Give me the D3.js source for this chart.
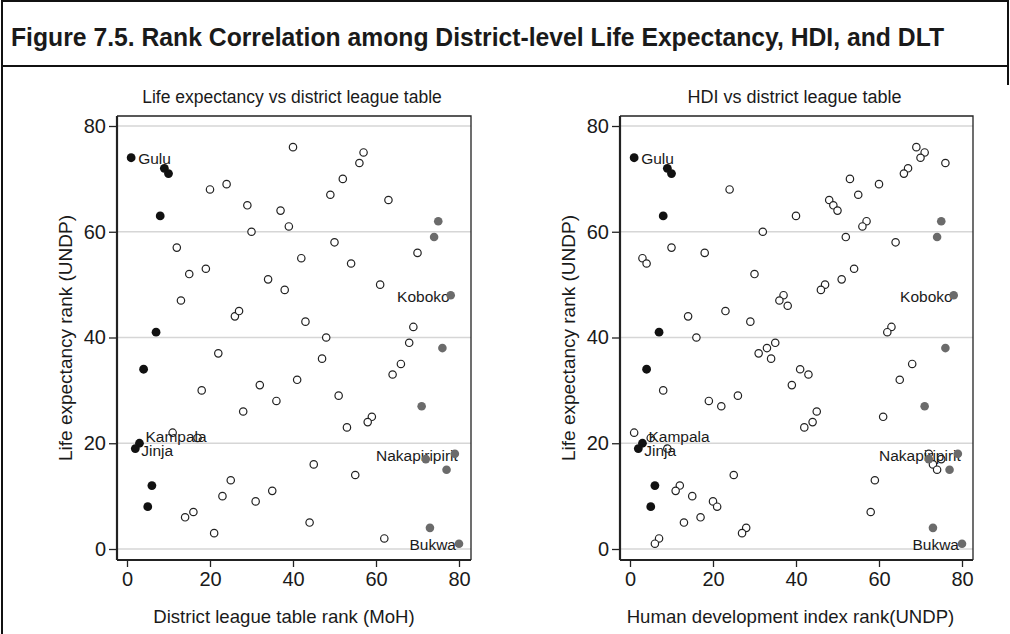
<!DOCTYPE html>
<html><head><meta charset="utf-8">
<script src="https://cdn.jsdelivr.net/npm/d3@7"></script>
<style>
body{margin:0;background:#fff}
svg{display:block}
text{font-family:Arial,"Liberation Sans",Helvetica,sans-serif;fill:#1a1a1a}
</style>
</head><body>
<svg width="1010" height="634"></svg>
<script>
// ---------------- data ----------------
const figureTitle = "Figure 7.5. Rank Correlation among District-level Life Expectancy, HDI, and DLT";
const panelTitles = ["Life expectancy vs district league table", "HDI vs district league table"];
const xTitles = ["District league table rank (MoH)", "Human development index rank(UNDP)"];
const yTitle = "Life expectancy rank (UNDP)";
const xTickValues = [0, 20, 40, 60, 80];
const yTickValues = [0, 20, 40, 60, 80];

// top-ranked districts (black) — same in both panels: [x rank, life expectancy rank]
const topDistricts = [[1,74],[9,72],[10,71],[8,63],[7,41],[4,34],[3,20],[2,19],[6,12],[5,8]];
const topNames = ["Gulu","","","","","","Kampala","Jinja","",""];
// bottom-ranked districts (grey)
const bottomDistricts = [[75,62],[74,59],[78,48],[76,38],[71,27],[79,18],[72,17],[77,15],[73,4],[80,1]];
const bottomNames = ["","","Koboko","","","Nakapiripirit","","","","Bukwa"];

// other districts, panel 1 (DLT rank vs life expectancy rank)
const dltOthers = [[40,76],[20,68],[24,69],[29,65],[37,64],[39,61],[30,60],[52,70],[49,67],[50,58],
  [12,57],[15,52],[19,53],[13,47],[34,51],[38,49],[42,55],[54,54],[26,44],[27,45],[43,43],[48,40],
  [22,37],[47,36],[57,75],[56,73],[63,66],[70,56],[61,50],[69,42],[68,39],[66,35],[18,30],[32,31],
  [36,28],[41,32],[28,26],[51,29],[53,23],[11,22],[17,21],[25,13],[23,10],[35,11],[31,9],[45,16],
  [16,7],[14,6],[21,3],[44,5],[64,33],[59,25],[58,24],[55,14],[62,2]];
// other districts, panel 2 (HDI rank vs life expectancy rank)
const hdiOthers = [[24,68],[40,63],[32,60],[10,57],[18,56],[3,55],[4,54],[30,52],[37,48],[36,47],
  [38,46],[14,44],[23,45],[29,43],[16,40],[31,37],[33,38],[35,39],[34,36],[41,34],[69,76],[71,75],
  [70,74],[76,73],[67,72],[66,71],[53,70],[60,69],[55,67],[48,66],[49,65],[50,64],[57,62],[56,61],
  [52,59],[64,58],[54,53],[51,51],[47,50],[46,49],[63,42],[62,41],[68,35],[8,30],[19,28],[22,27],
  [26,29],[39,31],[1,22],[5,21],[9,19],[25,14],[12,12],[11,11],[15,10],[20,9],[21,8],[17,6],[13,5],
  [28,4],[27,3],[7,2],[6,1],[43,33],[65,32],[61,25],[45,26],[44,24],[42,23],[59,13],[58,7],
  [72,18],[75,17],[73,16],[74,15]];

// ---------------- layout ----------------
const svg = d3.select("svg");
const labelStyle = {
  Gulu:{anchor:"start",dx:7,dy:0.5},
  Kampala:{anchor:"start",dx:6,dy:-7},
  Jinja:{anchor:"start",dx:6,dy:1.5},
  Koboko:{anchor:"end",dx:-1,dy:1},
  Nakapiripirit:{anchor:"end",dx:3,dy:1.5},
  Bukwa:{anchor:"end",dx:-3,dy:1}
};

// frame
svg.append("path").attr("d","M2,634V1H1008V85")
  .attr("fill","none").attr("stroke","#111").attr("stroke-width",2);
svg.append("line").attr("x1",2).attr("x2",1008).attr("y1",66).attr("y2",66)
  .attr("stroke","#111").attr("stroke-width",2);
svg.append("text").attr("x",11).attr("y",46)
  .attr("font-size",25).attr("font-weight","bold")
  .attr("textLength",933).attr("lengthAdjust","spacingAndGlyphs")
  .text(figureTitle);

const panels = [
  {left:117,right:471,x0:127,x80:459,others:dltOthers,title:panelTitles[0],xTitle:xTitles[0],tfs:17.5,xshift:-10},
  {left:620,right:973,x0:630,x80:962,others:hdiOthers,title:panelTitles[1],xTitle:xTitles[1],tfs:18,xshift:-6}
];
const plotTop = 116, plotBottom = 560;

panels.forEach(p => {
  const x = d3.scaleLinear().domain([0,80]).range([p.x0,p.x80]);
  const y = d3.scaleLinear().domain([0,80]).range([549,126]);
  const g = svg.append("g");

  // gridlines
  g.selectAll(".grid").data(yTickValues).enter().append("line")
    .attr("x1",p.left).attr("x2",p.right)
    .attr("y1",d=>y(d)).attr("y2",d=>y(d))
    .attr("stroke","#d6d6d6").attr("stroke-width",1.5);

  // top & right frame
  g.append("path").attr("d",`M${p.left},${plotTop}H${p.right}V${plotBottom}`)
    .attr("fill","none").attr("stroke","#222").attr("stroke-width",1.3);

  // axes
  const yAxis = d3.axisLeft(y).tickValues(yTickValues).tickSize(8).tickPadding(3).tickSizeOuter(0);
  const ya = g.append("g").attr("transform",`translate(${p.left},0)`).call(yAxis);
  ya.select(".domain").attr("d",`M0,${plotTop}V${plotBottom}`).attr("stroke","#222").attr("stroke-width",2.2);
  ya.selectAll(".tick line").attr("stroke","#222").attr("stroke-width",1.3);
  ya.selectAll(".tick text").attr("font-size",20).attr("fill","#1a1a1a")
    .attr("font-family","Arial, 'Liberation Sans', sans-serif");

  const xAxis = d3.axisBottom(x).tickValues(xTickValues).tickSize(7).tickPadding(5).tickSizeOuter(0);
  const xa = g.append("g").attr("transform",`translate(0,${plotBottom})`).call(xAxis);
  xa.select(".domain").attr("d",`M${p.left},0H${p.right}`).attr("stroke","#222").attr("stroke-width",2.2);
  xa.selectAll(".tick line").attr("stroke","#222").attr("stroke-width",1.3);
  xa.selectAll(".tick text").attr("font-size",20).attr("fill","#1a1a1a")
    .attr("font-family","Arial, 'Liberation Sans', sans-serif");

  // titles
  const cx = (p.left+p.right)/2;
  g.append("text").attr("x",cx-2).attr("y",103).attr("text-anchor","middle")
    .attr("font-size",p.tfs).text(p.title);
  g.append("text").attr("x",cx+p.xshift).attr("y",623).attr("text-anchor","middle")
    .attr("font-size",18.6).text(p.xTitle);
  g.append("text").attr("transform",`translate(${p.left-45},${(plotTop+plotBottom)/2}) rotate(-90)`)
    .attr("text-anchor","middle").attr("font-size",19).text(yTitle);

  // open circles
  g.selectAll(".open").data(p.others).enter().append("circle")
    .attr("cx",d=>x(d[0])).attr("cy",d=>y(d[1])).attr("r",3.7)
    .attr("fill","#fff").attr("stroke","#222").attr("stroke-width",1.2);

  // labels
  const labelled = topDistricts.map((d,i)=>({d,name:topNames[i]}))
    .concat(bottomDistricts.map((d,i)=>({d,name:bottomNames[i]})))
    .filter(o=>o.name);
  g.selectAll(".lab").data(labelled).enter().append("text")
    .attr("x",o=>x(o.d[0])+labelStyle[o.name].dx)
    .attr("y",o=>y(o.d[1])+labelStyle[o.name].dy)
    .attr("dominant-baseline","central")
    .attr("text-anchor",o=>labelStyle[o.name].anchor)
    .attr("font-size",15.5).attr("fill","#222")
    .text(o=>o.name);

  // black & grey markers
  g.selectAll(".top").data(topDistricts).enter().append("circle")
    .attr("cx",d=>x(d[0])).attr("cy",d=>y(d[1])).attr("r",4.4).attr("fill","#111");
  g.selectAll(".bot").data(bottomDistricts).enter().append("circle")
    .attr("cx",d=>x(d[0])).attr("cy",d=>y(d[1])).attr("r",4.3).attr("fill","#6b6b6b");
});
</script>
</body></html>
